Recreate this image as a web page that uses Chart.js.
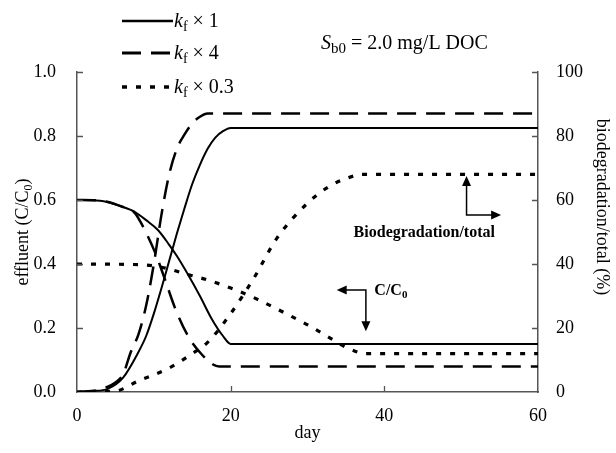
<!DOCTYPE html>
<html lang="en">
<head>
    <meta charset="UTF-8">
    <title>Effluent C/C0 and biodegradation</title>
    <script src="https://cdn.jsdelivr.net/npm/chart.js@4.4.1/dist/chart.umd.min.js"></script>
    <style>
        html, body { margin: 0; padding: 0; background: #fff; }
        #container { width: 616px; height: 453px; }
    </style>
</head>
<body>
<div id="container">
    <canvas id="canvas"></canvas>
</div>
<script>
    // effluent C/C0 (left axis), per kf multiplier
    var DAYS_C_KF1 = [0, 3, 6, 7.5, 9, 10.5, 12, 13, 14.5, 16, 17.5, 19, 20, 60];
    var C_KF1 = [0.60, 0.598, 0.578, 0.563, 0.537, 0.507, 0.46, 0.425, 0.365, 0.30, 0.23, 0.175, 0.15, 0.15];
    var DAYS_C_KF4 = [0, 3, 6, 7.5, 8.3, 10.2, 11.4, 12.8, 14.5, 16.1, 17.7, 18.5, 60];
    var C_KF4 = [0.60, 0.598, 0.578, 0.56, 0.53, 0.434, 0.355, 0.26, 0.173, 0.121, 0.086, 0.08, 0.08];
    var DAYS_C_KF03 = [0, 8, 11, 14, 17, 20, 23, 26.8, 30, 32.5, 35, 36.5, 37.5, 60];
    var C_KF03 = [0.40, 0.398, 0.39, 0.37, 0.35, 0.325, 0.295, 0.25, 0.21, 0.175, 0.14, 0.125, 0.12, 0.12];

    // biodegradation / total in % (right axis)
    var DAYS_B_KF1 = [0, 2, 4, 6, 8, 9, 10, 11, 12, 13, 14, 15, 16, 17, 18, 19, 20, 60];
    var B_KF1 = [0, 0.3, 1, 4.5, 12.5, 17.5, 24.5, 32.5, 41, 49.5, 57.5, 65, 71, 76, 79.5, 81.5, 82.5, 82.5];
    var DAYS_B_KF4 = [0, 3, 5, 6, 7, 8, 9, 10, 11, 12, 13, 14, 15, 16, 17, 60];
    var B_KF4 = [0, 0.8, 3, 5.5, 12.5, 18, 27, 40, 55.5, 68, 76, 80.5, 84, 86, 87, 87];
    var DAYS_B_KF03 = [0, 5, 8, 12, 15, 17, 20, 23, 26, 30, 33, 36, 37, 60];
    var B_KF03 = [0, 0.3, 3.5, 7.5, 12, 15.5, 24.5, 35.5, 48, 59, 64.5, 67.5, 68, 68];

    var LEGEND_SUFFIX = ['\u00d7 1', '\u00d7 4', '\u00d7 0.3'];
    var DASHES = [[], [19, 10], [5, 9]];
    var WIDTHS = [2, 2.5, 3.2];

    var SERIF = '"Liberation Serif", "Times New Roman", serif';
    var AXIS_COLOR = '#555';

    function pts(xs, ys) {
        return xs.map(function(x, i) { return {x: x, y: ys[i]}; });
    }

    function line(data, k, axis) {
        return {
            data: data,
            yAxisID: axis,
            borderColor: '#000',
            borderWidth: WIDTHS[k],
            borderDash: DASHES[k],
            borderCapStyle: 'butt',
            pointRadius: 0,
            fill: false,
            cubicInterpolationMode: 'monotone'
        };
    }

    // draw a run of [text, font, dy] pieces from x along baseline y
    function rich(ctx, parts, x, y) {
        parts.forEach(function(p) {
            ctx.font = p[1];
            ctx.fillText(p[0], x, y + (p[2] || 0));
            x += ctx.measureText(p[0]).width;
        });
        return x;
    }

    function arrowHead(ctx, tx, ty, ang) {
        var L = 10, W = 4.5;
        ctx.beginPath();
        ctx.moveTo(tx, ty);
        ctx.lineTo(tx - L * Math.cos(ang) + W * Math.sin(ang), ty - L * Math.sin(ang) - W * Math.cos(ang));
        ctx.lineTo(tx - L * Math.cos(ang) - W * Math.sin(ang), ty - L * Math.sin(ang) + W * Math.cos(ang));
        ctx.closePath();
        ctx.fill();
    }

    var decor = {
        id: 'decor',
        afterDraw: function(chart) {
            var ctx = chart.ctx;
            var sx = chart.scales.x, sy = chart.scales.y, sy2 = chart.scales.y2;
            var a = chart.chartArea;
            ctx.save();

            // inward tick marks
            ctx.strokeStyle = AXIS_COLOR;
            ctx.lineWidth = 1.3;
            ctx.beginPath();
            [20, 40].forEach(function(v) {
                var px = Math.round(sx.getPixelForValue(v)) + 0.5;
                ctx.moveTo(px, a.bottom); ctx.lineTo(px, a.bottom - 6);
            });
            [0.2, 0.4, 0.6, 0.8, 1.0].forEach(function(v) {
                var py = Math.round(sy.getPixelForValue(v)) + 0.5;
                ctx.moveTo(a.left, py); ctx.lineTo(a.left + 6, py);
            });
            [20, 40, 60, 80, 100].forEach(function(v) {
                var py = Math.round(sy2.getPixelForValue(v)) + 0.5;
                ctx.moveTo(a.right, py); ctx.lineTo(a.right - 6, py);
            });
            ctx.stroke();

            ctx.fillStyle = '#000';
            ctx.textBaseline = 'alphabetic';
            ctx.textAlign = 'left';

            // legend
            var rowsY = [21, 53, 87];
            for (var k = 0; k < 3; k++) {
                ctx.strokeStyle = '#000';
                ctx.lineWidth = WIDTHS[k] + 0.3;
                ctx.setLineDash(DASHES[k]);
                ctx.beginPath();
                ctx.moveTo(122, rowsY[k]);
                ctx.lineTo(173, rowsY[k]);
                ctx.stroke();
                ctx.setLineDash([]);
                rich(ctx, [
                    ['k', 'italic 20px ' + SERIF],
                    ['f', '14px ' + SERIF, 4],
                    [' ' + LEGEND_SUFFIX[k], '20px ' + SERIF]
                ], 174, rowsY[k] + 6);
            }

            // S_b0 note
            rich(ctx, [
                ['S', 'italic 20px ' + SERIF],
                ['b0', '15px ' + SERIF, 4],
                [' = 2.0 mg/L DOC', '20px ' + SERIF]
            ], 321, 49);

            // axis titles
            ctx.save();
            ctx.translate(28, (a.top + a.bottom) / 2);
            ctx.rotate(-Math.PI / 2);
            ctx.font = '18px ' + SERIF;
            var wL = ctx.measureText('effluent (C/C').width;
            ctx.font = '12px ' + SERIF;
            var w0 = ctx.measureText('0').width;
            ctx.font = '18px ' + SERIF;
            var wR = ctx.measureText(')').width;
            rich(ctx, [
                ['effluent (C/C', '18px ' + SERIF],
                ['0', '12px ' + SERIF, 4],
                [')', '18px ' + SERIF]
            ], -(wL + w0 + wR) / 2, 0);
            ctx.restore();

            ctx.save();
            ctx.translate(597, 207);
            ctx.rotate(Math.PI / 2);
            ctx.font = '18px ' + SERIF;
            ctx.textAlign = 'center';
            ctx.fillText('biodegradation/total (%)', 0, 0);
            ctx.restore();

            // arrow annotations, anchored to the data scales
            ctx.strokeStyle = '#000';
            ctx.lineWidth = 1.5;
            var bx = sx.getPixelForValue(50.7);
            var by = sy2.getPixelForValue(55.3);
            var btop = sy2.getPixelForValue(67.5);
            var bright = sx.getPixelForValue(55.2);
            ctx.beginPath();
            ctx.moveTo(bx, btop + 8); ctx.lineTo(bx, by); ctx.lineTo(bright - 8, by);
            ctx.stroke();
            arrowHead(ctx, bx, btop, -Math.PI / 2);
            arrowHead(ctx, bright, by, 0);

            ctx.font = 'bold 16px ' + SERIF;
            ctx.textAlign = 'center';
            ctx.fillText('Biodegradation/total', sx.getPixelForValue(45.2), sy2.getPixelForValue(48.3));
            ctx.textAlign = 'left';

            var cx = sx.getPixelForValue(37.6);
            var cy = sy.getPixelForValue(0.319);
            var cleft = sx.getPixelForValue(33.8);
            var cdown = sy.getPixelForValue(0.19);
            ctx.beginPath();
            ctx.moveTo(cleft + 8, cy); ctx.lineTo(cx, cy); ctx.lineTo(cx, cdown - 8);
            ctx.stroke();
            arrowHead(ctx, cleft, cy, Math.PI);
            arrowHead(ctx, cx, cdown, Math.PI / 2);

            rich(ctx, [
                ['C/C', 'bold 16px ' + SERIF],
                ['0', 'bold 11px ' + SERIF, 3]
            ], sx.getPixelForValue(38.7), sy.getPixelForValue(0.302));

            ctx.restore();
        }
    };

    window.onload = function() {
        var ctx = document.getElementById('canvas').getContext('2d');
        window.myChart = new Chart(ctx, {
            type: 'line',
            data: {
                datasets: [
                    line(pts(DAYS_C_KF1, C_KF1), 0, 'y'),
                    line(pts(DAYS_C_KF4, C_KF4), 1, 'y'),
                    line(pts(DAYS_C_KF03, C_KF03), 2, 'y'),
                    line(pts(DAYS_B_KF1, B_KF1), 0, 'y2'),
                    line(pts(DAYS_B_KF4, B_KF4), 1, 'y2'),
                    line(pts(DAYS_B_KF03, B_KF03), 2, 'y2')
                ]
            },
            options: {
                responsive: true,
                maintainAspectRatio: false,
                animation: false,
                layout: { padding: { top: 72, left: 0, right: 0, bottom: 0 } },
                plugins: {
                    legend: { display: false },
                    tooltip: { enabled: false }
                },
                scales: {
                    x: {
                        type: 'linear',
                        min: 0,
                        max: 60,
                        afterFit: function(s) { s.height = 61; },
                        grid: { display: false },
                        border: { display: true, color: AXIS_COLOR, width: 1.5 },
                        ticks: { stepSize: 20, padding: 5, color: '#000', font: { family: SERIF, size: 18 } },
                        title: { display: true, text: 'day', color: '#000', padding: { top: 0, bottom: 9 }, font: { family: SERIF, size: 18 } }
                    },
                    y: {
                        position: 'left',
                        min: 0,
                        max: 1,
                        afterFit: function(s) { s.width = 77; },
                        grid: { display: false },
                        border: { display: true, color: AXIS_COLOR, width: 1.5 },
                        ticks: {
                            stepSize: 0.2,
                            padding: 13,
                            color: '#000',
                            font: { family: SERIF, size: 18 },
                            callback: function(v) { return v.toFixed(1); }
                        }
                    },
                    y2: {
                        position: 'right',
                        min: 0,
                        max: 100,
                        afterFit: function(s) { s.width = 78; },
                        grid: { display: false },
                        border: { display: true, color: AXIS_COLOR, width: 1.5 },
                        ticks: { stepSize: 20, padding: 10, color: '#000', font: { family: SERIF, size: 18 } }
                    }
                }
            },
            plugins: [decor]
        });
    };
</script>
</body>
</html>
